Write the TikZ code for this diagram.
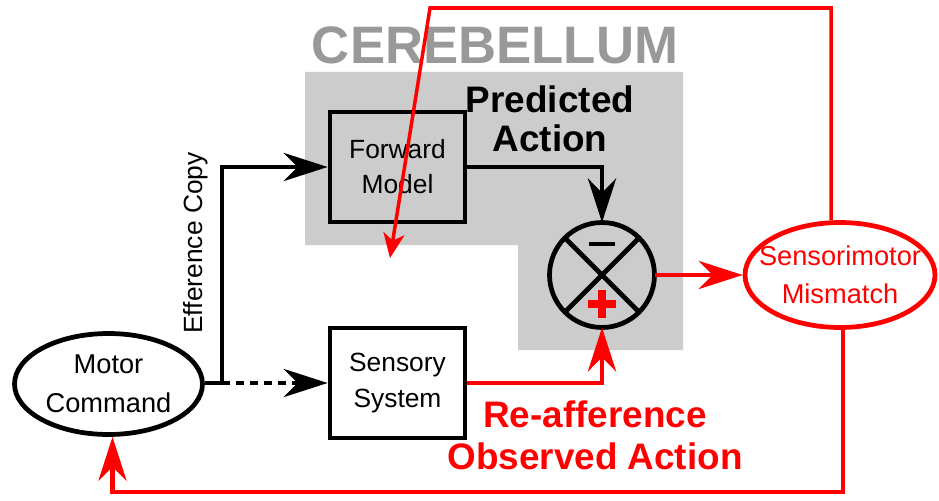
\documentclass[tikz,border=0pt]{standalone}
\usepackage{fontspec}
\setmainfont{Liberation Sans}
\usetikzlibrary{arrows.meta, calc, positioning, shapes.geometric}

\definecolor{cerebgray}{HTML}{CCCCCC}
\definecolor{titlegray}{HTML}{999999}

\begin{document}
\begin{tikzpicture}[
    x=0.02cm, y=-0.02cm,
    block/.style={
        draw,
        line width=2.7pt,
        minimum width=2.7cm,
        minimum height=2.2cm,
        inner sep=0pt,
        align=center,
        font=\fontsize{15}{20}\selectfont
    },
    oval/.style={
        draw,
        ellipse,
        line width=2.7pt,
        inner sep=0pt,
        align=center
    },
    sig/.style={
        line width=2.7pt,
        -{Stealth[length=25pt, width=16pt, inset=8pt]}
    },
    fb/.style={
        line width=2pt,
        red,
        -{Stealth[length=14pt, width=12pt, inset=4pt]}
    },
    biglabel/.style={
        align=center,
        font=\bfseries\fontsize{21}{22}\selectfont
    }
]
    \useasboundingbox (0,0) rectangle (939,500);

    % Cerebellum region
    \fill[cerebgray] (305,72) -- (683,72) -- (683,350) -- (518,350) -- (518,245) -- (305,245) -- cycle;
    \node[font=\bfseries\fontsize{30}{30}\selectfont, text=titlegray] (cereb) at (495,45) {CEREBELLUM};

    % Nodes
    \node[block, fill=cerebgray] (fwd) at (397.5,167) {Forward\\Model};
    \node[block, fill=white] (sens) at (397.5,383) {Sensory\\System};
    \node[oval, minimum width=3.76cm, minimum height=2.02cm, font=\fontsize{15.5}{22}\selectfont] (motor) at (108.5,384) {Motor\\Command};
    \node[circle, draw, line width=2.7pt, minimum size=2.1cm, inner sep=0pt, outer sep=0pt] (cmp) at (602,275) {};
    \node[oval, draw=red, minimum width=3.8cm, minimum height=2.1cm] (mismatch) at (840,275) {};
    \node[align=center, text=red, font=\fontsize{15.5}{21.5}\selectfont] (mismatchtxt) at (mismatch) {Sensorimotor\\Mismatch};

    % Comparator
    \draw[line width=2.7pt] (cmp.north east) -- (cmp.south west) (cmp.north west) -- (cmp.south east);
    \draw[line width=1.8pt] ($(cmp)+(-13,-31)$) -- ($(cmp)+(13,-31)$);
    \draw[red, line width=4.5pt] ($(cmp)+(-14,29)$) -- ($(cmp)+(14,29)$) ($(cmp)+(0,15)$) -- ($(cmp)+(0,43)$);

    % Efference copy and sensory input
    \coordinate (split) at (222,383);
    \draw[line width=2.7pt] (motor.east |- split) -- (split);
    \draw[sig] (split) |- (fwd.west);
    \draw[sig, dash pattern=on 4.5pt off 3.5pt] (split) -- (sens.west);
    \draw[sig] (fwd.east) -| (cmp.north);

    % Error signals
    \draw[sig, red] (sens.east) -| (cmp.south);
    \draw[sig, red] (cmp.east) -- (mismatch.west);
    \coordinate (fbtip) at (390,258);
    \draw[fb] ($(mismatch.north)+(-9,0)$) |- (430,8) -- (fbtip);
    \draw[sig, red] ($(mismatch.south)+(3,0)$) |- (500,492) -| ($(motor.south)+(4,0)$);

    % Labels
    \node[rotate=90, font=\fontsize{15}{18}\selectfont] (effcopy) at (196,243) {Efference Copy};
    \node[biglabel] (predlbl) at (550,119) {Predicted\\Action};
    \node[biglabel, text=red, font=\bfseries\fontsize{21}{24}\selectfont] (reaff) at (595,435) {Re-afference\\Observed Action};

\end{tikzpicture}
\end{document}
